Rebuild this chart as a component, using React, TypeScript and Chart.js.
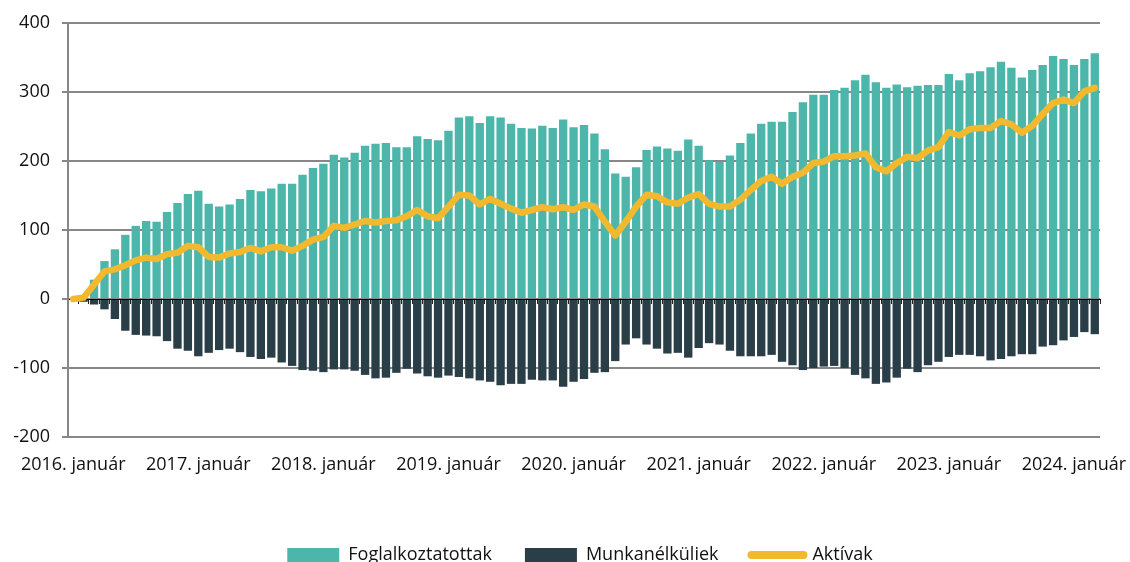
import React, { useEffect, useRef } from "react";
import { Chart, registerables } from "chart.js";

Chart.register(...registerables);

const MONTH_NAMES = ["január", "február", "március", "április", "május", "június", "július", "augusztus", "szeptember", "október", "november", "december"];
const START_YEAR = 2016;
const MONTH_COUNT = 99;
const categories: string[] = [];
for (let i = 0; i < MONTH_COUNT; i++) {
  categories.push(`${START_YEAR + Math.floor(i / 12)}. ${MONTH_NAMES[i % 12]}`);
}

const employed = [
  0, 5, 28, 55, 72, 93, 106, 113, 112, 126,
  139, 152, 157, 138, 134, 137, 145, 158, 156, 160,
  167, 167, 180, 190, 196, 209, 205, 212, 222, 225,
  226, 220, 220, 236, 232, 230, 244, 263, 265, 255,
  265, 263, 254, 248, 247, 251, 248, 260, 249, 252,
  240, 217, 182, 177, 191, 216, 221, 218, 215, 231,
  222, 201, 199, 208, 226, 240, 254, 257, 257, 271,
  285, 296, 296, 303, 306, 317, 325, 314, 306, 311,
  307, 309, 310, 310, 326, 317, 327, 330, 336, 344,
  335, 321, 332, 339, 352, 348, 339, 348, 356,
];

const unemployed = [
  0, -4, -8, -15, -29, -46, -52, -53, -54, -61,
  -72, -75, -83, -78, -74, -72, -77, -84, -87, -85,
  -92, -97, -103, -104, -106, -102, -102, -104, -110, -115,
  -114, -107, -101, -108, -112, -114, -111, -113, -115, -118,
  -120, -125, -123, -123, -117, -118, -118, -127, -120, -116,
  -107, -106, -90, -66, -57, -66, -72, -79, -78, -85,
  -71, -64, -66, -75, -83, -83, -83, -81, -91, -96,
  -103, -100, -98, -97, -100, -110, -115, -123, -121, -114,
  -101, -106, -96, -91, -84, -81, -81, -83, -89, -87,
  -83, -80, -80, -69, -67, -60, -55, -48, -51,
];

const active = [
  0, 2, 21, 40, 43, 49, 56, 60, 58, 65,
  67, 77, 75, 61, 60, 66, 68, 74, 69, 75,
  75, 70, 77, 86, 90, 106, 103, 108, 113, 111,
  113, 114, 120, 129, 120, 117, 134, 151, 150, 137,
  145, 138, 131, 125, 129, 133, 130, 133, 129, 137,
  134, 112, 92, 112, 134, 151, 149, 140, 138, 147,
  152, 138, 134, 134, 144, 158, 171, 177, 167, 177,
  183, 197, 199, 207, 207, 208, 211, 191, 185, 197,
  206, 204, 215, 220, 242, 237, 246, 248, 248, 258,
  253, 241, 251, 268, 284, 289, 284, 301, 306,
];

const Y_TICKS = [-200, -100, 0, 100, 200, 300, 400];

const TEAL = "#4DB6AB";
const DARK = "#2A3E48";
const YELLOW = "#F2B92E";
const GRID = "#878787";
const FONT = "'Open Sans', 'Noto Sans', sans-serif";

const legendShift = {
  id: "legendShift",
  afterLayout(chart: any) {
    if (chart.legend) {
      chart.legend.left += 30;
      chart.legend.right += 30;
    }
  },
};

export default function App() {
  const ref = useRef<HTMLCanvasElement | null>(null);

  useEffect(() => {
    if (!ref.current) return;
    const chart = new Chart(ref.current, {
      type: "bar",
      data: {
        labels: categories,
        datasets: [
          {
            type: "bar",
            label: "Foglalkoztatottak",
            data: employed,
            backgroundColor: TEAL,
            borderWidth: 0,
            grouped: false,
            barPercentage: 0.8,
            categoryPercentage: 1,
            order: 2,
          },
          {
            type: "bar",
            label: "Munkanélküliek",
            data: unemployed,
            backgroundColor: DARK,
            borderWidth: 0,
            grouped: false,
            barPercentage: 0.8,
            categoryPercentage: 1,
            order: 1,
          },
          {
            type: "line",
            label: "Aktívak",
            data: active,
            borderColor: YELLOW,
            backgroundColor: YELLOW,
            borderWidth: 6.5,
            pointRadius: 0,
            tension: 0,
            borderCapStyle: "round",
            borderJoinStyle: "round",
            order: 0,
          },
        ],
      } as any,
      plugins: [legendShift],
      options: {
        responsive: false,
        animation: false,
        events: [],
        layout: { padding: { left: 0, right: 30, top: 23, bottom: 6 } },
        plugins: {
          tooltip: { enabled: false },
          legend: {
            position: "bottom",
            labels: {
              usePointStyle: true,
              pointStyleWidth: 52,
              boxHeight: 14,
              padding: 33,
              color: "#111",
              font: { family: FONT, size: 18 },
              generateLabels: () => [
                { text: "Foglalkoztatottak", fillStyle: TEAL, strokeStyle: TEAL, lineWidth: 0, pointStyle: "rect", datasetIndex: 0, hidden: false, fontColor: "#111" },
                { text: "Munkanélküliek", fillStyle: DARK, strokeStyle: DARK, lineWidth: 0, pointStyle: "rect", datasetIndex: 1, hidden: false, fontColor: "#111" },
                { text: "Aktívak", fillStyle: YELLOW, strokeStyle: YELLOW, lineWidth: 8, lineCap: "round", pointStyle: "line", datasetIndex: 2, hidden: false, fontColor: "#111" },
              ] as any,
            },
          },
        },
        scales: {
          x: {
            type: "category",
            offset: true,
            grid: { display: false, drawTicks: false },
            border: { display: false },
            ticks: {
              autoSkip: false,
              maxRotation: 0,
              minRotation: 0,
              padding: 17,
              color: "#111",
              font: { family: FONT, size: 18 },
              callback: (_v: any, i: number) => (i % 12 === 0 ? categories[i] : ""),
            },
            afterFit: (s: any) => {
              s.height = 76;
              s.paddingLeft = 0;
              s.paddingRight = 0;
            },
          },
          x2: {
            type: "category",
            axis: "x",
            labels: categories,
            offset: true,
            position: { y: 0 },
            z: 1,
            grid: { display: true, drawOnChartArea: false, drawTicks: true, tickLength: 4, color: "#222", lineWidth: 1, offset: true },
            border: { display: true, color: "#000", width: 1 },
            ticks: { display: false },
          },
          y: {
            min: -200,
            max: 400,
            afterBuildTicks: (s: any) => {
              s.ticks = Y_TICKS.map((v) => ({ value: v }));
            },
            grid: { color: GRID, lineWidth: 2, tickLength: 6, drawTicks: true },
            border: { display: true, color: GRID, width: 2 },
            ticks: {
              padding: 12,
              color: "#111",
              font: { family: FONT, size: 18 },
            },
            afterFit: (s: any) => {
              s.width = 68;
              s.paddingTop = 0;
              s.paddingBottom = 0;
            },
          },
        },
      } as any,
    });
    return () => chart.destroy();
  }, []);

  return (
    <div style={{ position: "fixed", left: 0, top: 0, width: 1130, height: 562, overflow: "hidden", background: "#fff" }}>
      <canvas ref={ref} width={1130} height={580} style={{ display: "block", width: 1130, height: 580 }} />
    </div>
  );
}
